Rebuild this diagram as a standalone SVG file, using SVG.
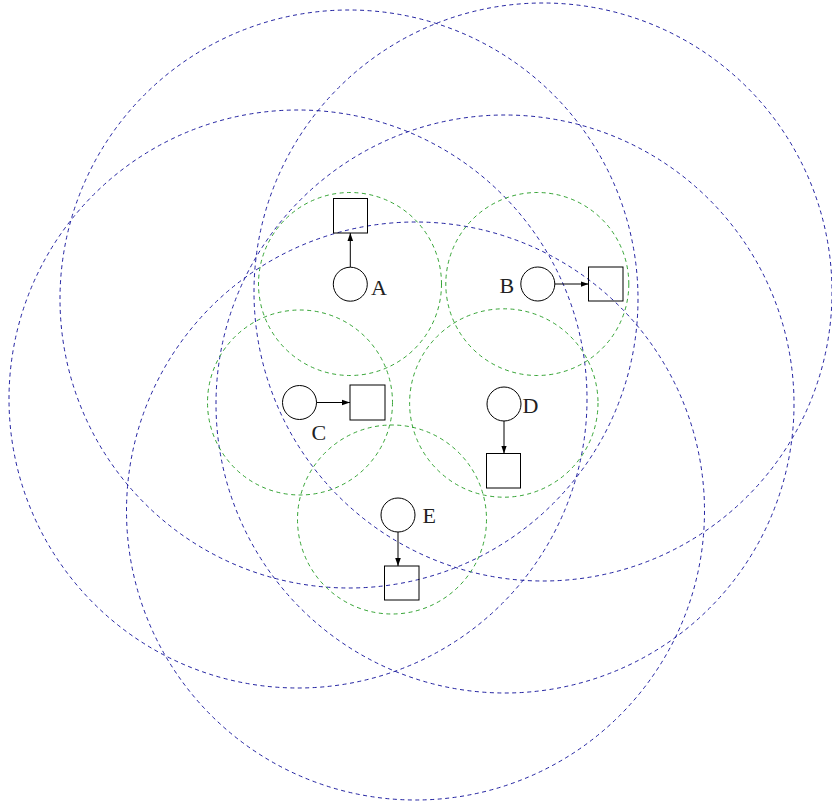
<svg xmlns="http://www.w3.org/2000/svg" width="832" height="806" viewBox="0 0 832 806">
<style>
.bg{fill:#ffffff}
.big{fill:none;stroke:#0a0a96;stroke-width:0.9;stroke-dasharray:4 3.5}
.grp{fill:none;stroke:#1f9a1f;stroke-width:0.9;stroke-dasharray:4 3.5}
.node{fill:none;stroke:#000;stroke-width:1}
.edge{fill:none;stroke:#000;stroke-width:1}
.lbl{font-family:"Liberation Serif","Times New Roman",serif;font-size:22px;fill:#222}
</style>
<defs>
<marker id="arr" viewBox="0 0 10 10" refX="10" refY="5" markerWidth="8" markerHeight="8" markerUnits="userSpaceOnUse" orient="auto">
<path d="M0,1.5 L10,5 L0,8.5 Z" fill="#000"/>
</marker>
</defs>
<rect class="bg" x="0" y="0" width="832" height="806"/>
<g id="regions">
<circle class="big" cx="349" cy="299" r="289"/>
<circle class="big" cx="543" cy="292" r="289"/>
<circle class="big" cx="298" cy="399" r="289"/>
<circle class="big" cx="505" cy="404" r="289"/>
<circle class="big" cx="415.5" cy="511" r="289"/>
</g>
<g id="clusters">
<circle class="grp" cx="350" cy="284" r="91.5"/>
<circle class="grp" cx="537.3" cy="284" r="91.5"/>
<circle class="grp" cx="300" cy="402.5" r="92.5"/>
<circle class="grp" cx="503.8" cy="403" r="94.2"/>
<circle class="grp" cx="392" cy="519.5" r="94.5"/>
</g>
<g id="connectors">
<line class="edge" x1="350.3" y1="267" x2="350.3" y2="233" marker-end="url(#arr)"/>
<line class="edge" x1="555" y1="284" x2="588.5" y2="284" marker-end="url(#arr)"/>
<line class="edge" x1="316.5" y1="402.5" x2="350" y2="402.5" marker-end="url(#arr)"/>
<line class="edge" x1="504" y1="421" x2="504" y2="453.5" marker-end="url(#arr)"/>
<line class="edge" x1="398" y1="532" x2="398" y2="566" marker-end="url(#arr)"/>
</g>
<g id="nodeA">
<circle class="node" cx="350.3" cy="284.2" r="17"/>
<rect class="node" x="333.5" y="198.5" width="34" height="34.5"/>
<text class="lbl" x="371" y="294.5">A</text>
</g>
<g id="nodeB">
<circle class="node" cx="537.8" cy="284" r="17"/>
<rect class="node" x="588.5" y="267" width="34.5" height="34"/>
<text class="lbl" x="499.5" y="292.5">B</text>
</g>
<g id="nodeC">
<circle class="node" cx="299.5" cy="402.5" r="17"/>
<rect class="node" x="350" y="385" width="35" height="35"/>
<text class="lbl" x="311.5" y="439.5">C</text>
</g>
<g id="nodeD">
<circle class="node" cx="504" cy="404" r="17"/>
<rect class="node" x="486.5" y="453.5" width="34" height="34.5"/>
<text class="lbl" x="522.5" y="412.5">D</text>
</g>
<g id="nodeE">
<circle class="node" cx="398" cy="515" r="17"/>
<rect class="node" x="384.5" y="566" width="34.5" height="34"/>
<text class="lbl" x="422.5" y="522.5">E</text>
</g>
</svg>
